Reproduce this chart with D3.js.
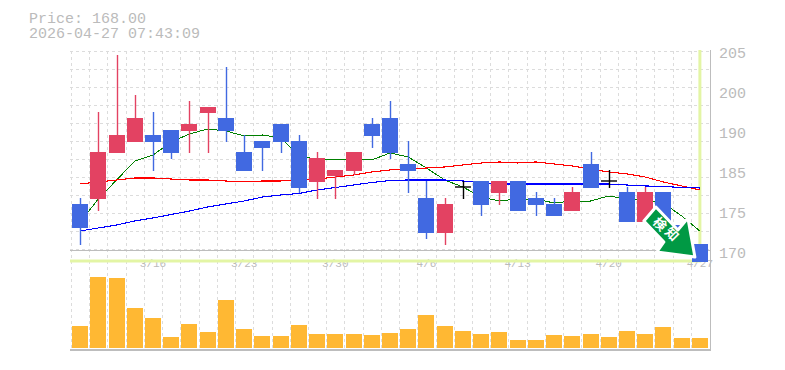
<!DOCTYPE html>
<html><head><meta charset="utf-8">
<style>html,body{margin:0;padding:0;background:#fff}svg{display:block}</style>
<script src="https://cdn.jsdelivr.net/npm/d3@7"></script></head>
<body><div id="c"></div>
<script>
const dates=["3/10","3/11","3/12","3/13","3/16","3/17","3/18","3/19","3/20","3/23","3/24","3/25","3/26","3/27","3/30","3/31","4/1","4/2","4/3","4/6","4/7","4/8","4/9","4/10","4/13","4/14","4/15","4/16","4/17","4/20","4/21","4/22","4/23","4/24","4/27"];
const xTickDates=["3/16","3/23","3/30","4/6","4/13","4/20","4/27"];
const open=[178.58,179.45,187.5,189.43,190.65,191.53,191.35,194.5,193.63,187.68,189.6,192.58,189.6,182.43,183.48,184.35,192.58,193.63,185.58,179.63,173.5,181.55,182.6,180.5,182.6,179.63,178.58,177.35,185.58,182.6,180.68,175.43,180.68,174.9,171.58];
const close=[174.38,187.68,190.65,193.63,189.43,187.5,192.58,195.55,191.35,184.35,188.38,189.43,181.38,186.63,184.53,187.68,190.48,187.5,184.35,173.5,178.58,181.55,178.4,182.6,177.35,178.4,176.48,180.68,181.38,182.6,175.43,180.68,175.43,171.75,168.43];
const high=[179.63,194.68,204.65,197.65,194.68,191.53,196.6,195.55,202.55,190.65,189.6,192.58,190.65,187.68,184.53,187.68,193.63,196.6,189.6,182.6,179.63,182.6,182.6,182.6,182.6,180.68,179.63,181.55,187.68,184.53,181.55,181.55,180.68,174.9,171.58];
const low=[171.4,177.35,187.5,189.43,184.35,186.45,187.5,187.5,189.43,184.35,184.35,187.5,180.5,179.45,179.45,183.65,188.38,186.45,180.5,172.45,171.4,179.45,176.48,178.4,177.35,176.48,176.48,177.35,181.38,181.38,175.43,175.43,175.43,171.75,168.43];
const maShort=[175.43,179.45,182.78,186.1,187.15,189.43,190.83,191.7,191.35,190.48,190.65,190.13,187.15,186.28,186.28,186.28,186.28,187.5,186.8,184.88,182.78,181.55,179.8,179.1,179.45,179.45,178.75,179.1,179.1,179.98,179.45,179.28,178.75,176.48,173.85];
const maMid=[182.08,182.43,182.78,183.13,183.13,182.95,182.78,182.78,182.6,182.43,182.6,182.6,182.78,182.95,183.3,183.65,184.18,184.53,184.7,184.88,185.05,185.4,185.75,185.93,185.75,185.93,185.58,185.23,184.7,184.18,183.83,183.3,182.43,181.73,181.03];
const maLong=[173.85,174.38,174.9,175.6,176.13,176.74,177.35,178.05,178.58,179.1,179.8,180.15,180.41,181.03,181.46,181.9,182.34,182.69,182.78,182.78,182.78,182.6,182.34,182.08,182.08,182.08,182.08,182.08,182.08,182.08,181.9,181.73,181.64,181.46,181.38];
const volume=[22,71,70,40,30,11,24,16,48,19,12,12,23,14,14,14,13,15,19,33,22,17,14,16,8,8,13,12,14,11,17,14,21,10,10];
const yTicks=[205,198,191,184,177,170];
const yTickLabels=["205","200","190","185","175","170"];
const lastPrice=168.6;
const titleLines=["Price: 168.00","2026-04-27 07:43:09"];
const arrowLabel="検知";

const W=785,H=370;
const svg=d3.select("#c").append("svg").attr("width",W).attr("height",H);
const x=d3.scaleBand().domain(dates).range([71,709]);
const cx=d=>x(d)+x.bandwidth()/2;
const y=d3.scaleLinear().domain([170,205]).range([253,53]);
const yv=d3.scaleLinear().domain([0,100]).range([348,248]);
const FONT='"Liberation Mono",monospace', TXT="#bbbbbb", GRID="#dcdcdc", AXIS="#bdbdbd";
const UP="#e34262", DOWN="#4169e1", VOL="#ffb833", HL="#e3f5a5";

// grid
const gridYs=d3.range(51,251,18);
svg.append("g").selectAll("line").data(gridYs).join("line")
 .attr("x1",70).attr("x2",710).attr("y1",d=>d+.5).attr("y2",d=>d+.5)
 .attr("stroke",GRID).attr("stroke-dasharray","3 3");
svg.append("g").selectAll("line").data(dates).join("line")
 .attr("x1",d=>Math.round(x(d))+.5).attr("x2",d=>Math.round(x(d))+.5).attr("y1",51).attr("y2",350)
 .attr("stroke",GRID).attr("stroke-dasharray","3 3");

// frame
svg.append("line").attr("x1",70).attr("x2",711).attr("y1",250.5).attr("y2",250.5).attr("stroke",AXIS);
svg.append("line").attr("x1",70).attr("x2",711).attr("y1",350).attr("y2",350).attr("stroke",AXIS).attr("stroke-width",2);
svg.append("line").attr("x1",710.5).attr("x2",710.5).attr("y1",50).attr("y2",351).attr("stroke",AXIS);

// x labels
svg.append("g").selectAll("text").data(xTickDates).join("text")
 .attr("x",cx).attr("y",267).attr("text-anchor","middle")
 .attr("font-family",FONT).attr("font-size",11).attr("fill",TXT).text(d=>d);

// y labels
svg.append("g").selectAll("text").data(yTicks).join("text")
 .attr("x",719).attr("y",d=>y(d)+5).attr("font-family",FONT).attr("font-size",15).attr("fill",TXT)
 .text((d,i)=>yTickLabels[i]);

// title
svg.append("g").selectAll("text").data(titleLines).join("text")
 .attr("x",29).attr("y",(d,i)=>23+i*15).attr("font-family",FONT).attr("font-size",15).attr("fill",TXT).text(d=>d);

// price highlight
svg.append("line").attr("x1",70).attr("x2",cx(dates[34])+1.5).attr("y1",y(lastPrice)).attr("y2",y(lastPrice)).attr("stroke",HL).attr("stroke-width",3);
svg.append("line").attr("x1",cx(dates[34])).attr("x2",cx(dates[34])).attr("y1",50).attr("y2",y(lastPrice)).attr("stroke",HL).attr("stroke-width",3);

// volume
svg.append("g").selectAll("rect").data(dates).join("rect")
 .attr("x",d=>Math.round(cx(d))-8).attr("width",16)
 .attr("y",(d,i)=>yv(volume[i])).attr("height",(d,i)=>yv(0)-yv(volume[i])).attr("fill",VOL);

// moving averages (beneath the candles)
const line=d3.line().x((v,i)=>cx(dates[i])).y(v=>y(v));
[[maShort,"#007f00",1],[maMid,"#ff0000",1.1],[maLong,"#0000ff",1.1]].forEach(([s,c,w])=>{
  svg.append("path").attr("d",line(s)).attr("fill","none").attr("stroke",c).attr("stroke-width",w).attr("shape-rendering","crispEdges");
});

// candles
const cg=svg.append("g");
dates.forEach((d,i)=>{
  const col=close[i]>open[i]?UP:close[i]<open[i]?DOWN:"#000";
  const X=Math.round(cx(d));
  cg.append("line").attr("x1",X+.5).attr("x2",X+.5).attr("y1",y(high[i])).attr("y2",y(low[i])).attr("stroke",col).attr("stroke-width",1.4);
  if(open[i]===close[i]){
    cg.append("line").attr("x1",X-8).attr("x2",X+8).attr("y1",y(open[i])).attr("y2",y(open[i])).attr("stroke",col).attr("stroke-width",1.4);
  } else {
    cg.append("rect").attr("x",X-8).attr("width",16).attr("shape-rendering","crispEdges")
      .attr("y",y(Math.max(open[i],close[i]))).attr("height",Math.abs(y(open[i])-y(close[i]))).attr("fill",col);
  }
});

// arrow badge
const ag=svg.append("g").attr("transform",`translate(${cx(dates[34])},${y(lastPrice)})`);
const pts=[[-5,-4],[-43,-9],[-36,-19],[-56,-40],[-44,-54],[-22,-31],[-12,-43]];
ag.append("polygon").attr("points",pts.join(" ")).attr("fill","#009944").attr("stroke","#fff").attr("stroke-width",3).attr("stroke-linejoin","round");
[...arrowLabel].forEach((ch,i)=>{
  ag.append("text").attr("transform",`translate(${-40+i*12},${-37+i*10}) rotate(45)`)
   .attr("text-anchor","middle").attr("dy","0.35em").attr("font-family",'"Noto Sans CJK JP"').attr("font-weight",700).attr("font-size",13).attr("fill","#fff").text(ch);
});
</script></body></html>
